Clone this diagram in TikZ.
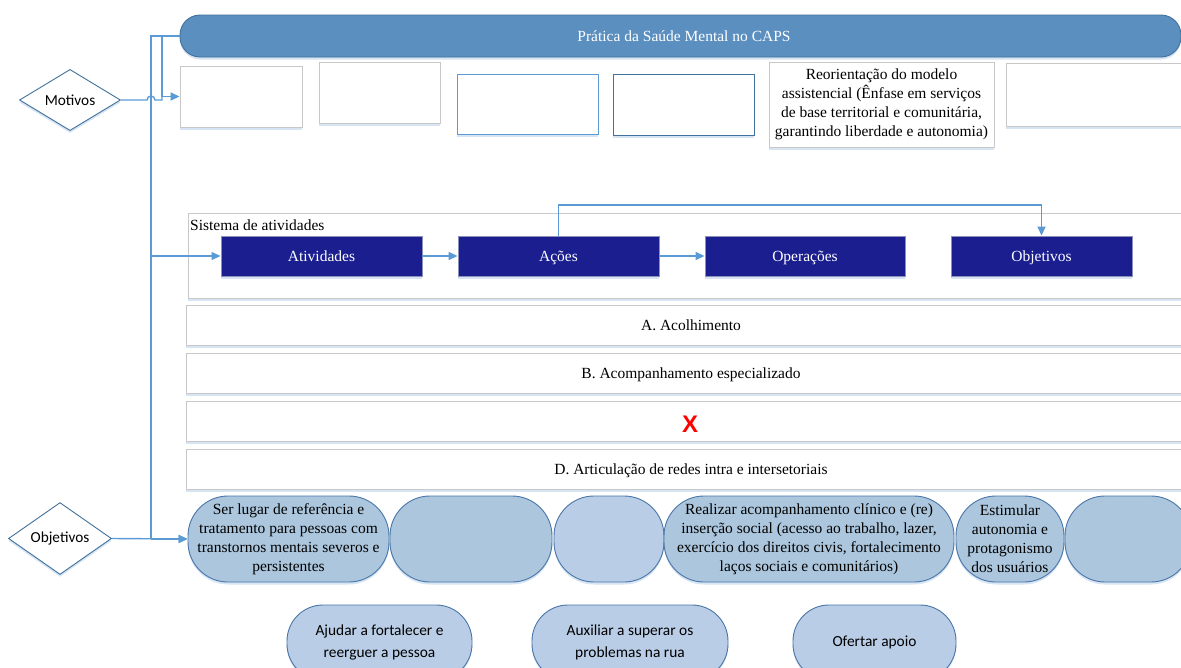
\documentclass[tikz,border=0pt]{standalone}
\usepackage{fontspec}
\setmainfont{Liberation Serif}
\newfontfamily\calibfam{Carlito}
\newfontfamily\arialfam{Liberation Sans}
\usetikzlibrary{arrows.meta,shapes.geometric,shadows}

\definecolor{linkblue}{HTML}{5B9BD5}
\definecolor{barfill}{HTML}{5A8FC0}
\definecolor{barline}{HTML}{41719C}
\definecolor{boxgray}{HTML}{C8C8C8}
\definecolor{shadeblue}{HTML}{D6E4F3}
\definecolor{navyfill}{HTML}{1A1E8F}
\definecolor{navyline}{HTML}{8C8FB8}
\definecolor{goaldark}{HTML}{ABC6DD}
\definecolor{goallight}{HTML}{B9CDE6}
\definecolor{goalline}{HTML}{4A76A8}

\newcommand\serifsz{\fontsize{15.5}{19}\selectfont}
\newcommand\sanssz{\calibfam\fontsize{15.4}{22}\selectfont}

\begin{document}
\begin{tikzpicture}[x=1pt,y=-1pt,
  conn/.style={draw=linkblue,line width=1.4pt},
  arr/.style={conn,-{Triangle[length=9pt,width=8pt]}},
  shade/.style={drop shadow={shadow xshift=0pt,shadow yshift=-2.5pt,fill=shadeblue,opacity=1}},
  oneline/.style={text height=12.5pt,text depth=1.5pt},
  gbox/.style={draw=boxgray,fill=white,line width=0.9pt,inner sep=0pt,shade},
  navy/.style={draw=navyline,fill=navyfill,text=white,line width=0.9pt,inner sep=0pt,
    minimum height=40pt,font=\serifsz,oneline,shade},
  choice/.style={diamond,draw=barline,fill=white,line width=0.9pt,inner sep=0pt,
    font=\calibfam\fontsize{15.3}{18}\selectfont,shade},
  goal/.style={draw=goalline,fill=goaldark,line width=0.9pt,rounded corners=40pt,
    inner sep=0pt,minimum height=86pt,align=center,font=\serifsz,shade},
  goalb/.style={draw=goalline,fill=goallight,line width=0.9pt,rounded corners=36pt,
    inner sep=0pt,minimum height=75pt,align=center,font=\sanssz,shade},
  rowbox/.style={gbox,minimum width=1014pt,minimum height=40pt},
  rowtxt/.style={font=\serifsz,oneline,inner sep=0pt},
]
\useasboundingbox (0,0) rectangle (1181,667);
\clip (0,0) rectangle (1181,667);

% heading bar
\node[draw=barline,fill=barfill,line width=0.9pt,rounded corners=20pt,
  minimum width=1001pt,minimum height=42pt,inner sep=0pt,shade] (bar) at (680.5,36) {};
\node[text=white,rowtxt] (bartxt) at (684,36) {Prática da Saúde Mental no CAPS};

% row of motive boxes
\node[gbox,minimum width=122pt,minimum height=61pt] (m1) at (241,96.5) {};
\node[gbox,minimum width=121pt,minimum height=61pt] (m2) at (379.5,92.5) {};
\node[gbox,draw=linkblue,minimum width=141pt,minimum height=60pt] (m3) at (527.5,104) {};
\node[gbox,draw=barline,minimum width=141pt,minimum height=61pt] (m4) at (683.5,104.5) {};
\node[gbox,minimum width=225pt,minimum height=85pt,align=center,font=\serifsz] (m5) at (881.5,104.5)
  {Reorientação do modelo\\assistencial (Ênfase em serviços\\de base territorial e comunitária,\\garantindo liberdade e autonomia)};
\node[gbox,minimum width=194pt,minimum height=63pt] (m6) at (1103,94.5) {};

% decision diamonds
\node[choice,minimum width=101pt,minimum height=60pt] (mot) at (70,100) {Motivos};
\node[choice,minimum width=103pt,minimum height=61pt] (obj) at (60,538.5) {Objetivos};

% activity system
\node[gbox,minimum width=1012pt,minimum height=85pt] (sys) at (694,255.5) {};
\node[anchor=west,font=\serifsz,inner sep=0pt] (systxt) at (190,225) {Sistema de atividades};
\node[navy,minimum width=201pt] (atv) at (321.5,256) {Atividades};
\node[navy,minimum width=201pt] (acs) at (558.5,256) {Ações};
\node[navy,minimum width=200pt] (ops) at (805,256) {Operações};
\node[navy,minimum width=181pt] (objs) at (1041.5,256) {Objetivos};

% practice rows
\node[rowbox] (ra) at (693,325) {};
\node[rowtxt] (ratxt) at (691,325) {A. Acolhimento};
\node[rowbox] (rb) at (693,373) {};
\node[rowtxt] (rbtxt) at (691,373) {B. Acompanhamento especializado};
\node[rowbox] (rc) at (693,421.5) {};
\node[text=red,font=\arialfam\bfseries\fontsize{24}{24}\selectfont] (rctxt) at (690,424) {X};
\node[rowbox] (rd) at (693,469) {};
\node[rowtxt] (rdtxt) at (691,469) {D. Articulação de redes intra e intersetoriais};

% goals
\node[goal,minimum width=201pt] (g1) at (288.5,539)
  {Ser lugar de referência e\\tratamento para pessoas com\\transtornos mentais severos e\\persistentes};
\node[goal,minimum width=162pt] (g2) at (471,539) {};
\node[goal,fill=goallight,minimum width=110pt] (g3) at (609,539) {};
\node[goal,minimum width=290pt] (g4) at (809,539)
  {Realizar acompanhamento clínico e (re)\\inserção social (acesso ao trabalho, lazer,\\exercício dos direitos civis, fortalecimento\\laços sociais e comunitários)};
\node[goal,minimum width=108pt] (g5) at (1010,539)
  {Estimular\\autonomia e\\protagonismo\\dos usuários};
\node[goal,minimum width=126pt] (g6) at (1128,539) {};

\node[goalb,minimum width=185pt] (h1) at (379.5,642.5) {Ajudar a fortalecer e\\reerguer a pessoa};
\node[goalb,minimum width=196pt] (h2) at (630,642.5) {Auxiliar a superar os\\problemas na rua};
\node[goalb,minimum width=163pt] (h3) at (874.5,642.5) {Ofertar apoio};

% connectors
\coordinate (vA) at (151,36);
\coordinate (jA) at (162,36);
\coordinate (jB) at (162,96.5);
\coordinate (hopL) at (147,100);
\coordinate (jM) at (162,100);
\coordinate (topA) at (0,205);

\draw[conn] (bar.west) -- (vA) -- (vA |- g1.west);
\draw[arr] (vA |- atv.west) -- (atv.west);
\draw[arr] (vA |- g1.west) -- (g1.west);
\draw[arr] (obj.east) -- (g1.west);
\draw[conn] (bar.west) -- (jA) -- (jB);
\draw[arr] (jB) -- (m1.west |- jB);
\draw[conn] (mot.east) -- (hopL) arc[start angle=180,end angle=0,radius=4pt] -- (jM) -- (jB);

\draw[arr] (atv.east) -- (acs.west);
\draw[arr] (acs.east) -- (ops.west);
\draw[arr] (acs.north) -- (acs.north |- topA) -| (objs.north);
\end{tikzpicture}
\end{document}
